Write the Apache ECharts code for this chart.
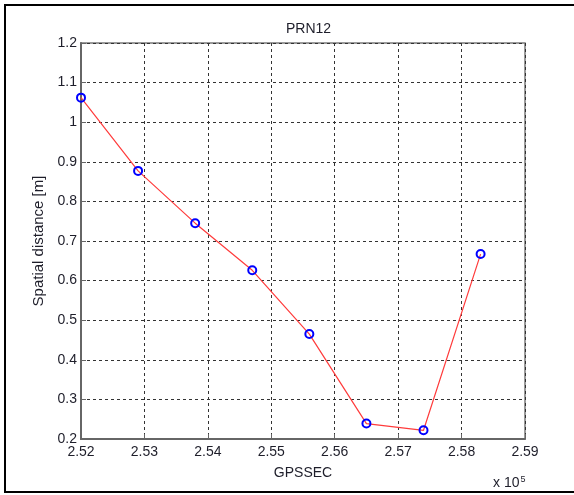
<!DOCTYPE html>
<html>
<head>
<meta charset="utf-8">
<script src="https://cdn.jsdelivr.net/npm/echarts@6/dist/echarts.min.js"></script>
<style>html,body{margin:0;padding:0;background:#fff;}#c{width:574px;height:495px;}</style>
</head>
<body>
<div id="c"></div>
<script>
// GPS seconds of week
const gpsSec = [252000, 252900, 253800, 254700, 255600, 256500, 257400, 258300];
// Spatial distance [m]
const distance = [1.062, 0.877, 0.745, 0.626, 0.465, 0.239, 0.222, 0.667];
const xTickValues = [252000, 253000, 254000, 255000, 256000, 257000, 258000, 259000];
const yTickValues = [0.2, 0.3, 0.4, 0.5, 0.6, 0.7, 0.8, 0.9, 1.0, 1.1, 1.2];

const FONT = 'Liberation Sans, Arial, sans-serif';
const TXT = '#1e1e2a';
const chart = echarts.init(document.getElementById('c'), null, {renderer: 'canvas'});
chart.setOption({
  animation: false,
  backgroundColor: '#fff',
  title: {
    text: 'PRN12', left: 281, top: 17,
    textStyle: {fontFamily: FONT, fontSize: 14, fontWeight: 'normal', color: TXT}
  },
  grid: {
    left: 81, right: 49, top: 43, bottom: 56,
    show: true, borderColor: '#7a7a7a', borderWidth: 1.5, backgroundColor: '#fff'
  },
  xAxis: {
    type: 'value',
    min: xTickValues[0], max: xTickValues[xTickValues.length - 1], interval: 1000,
    name: 'GPSSEC', nameLocation: 'middle', nameGap: 27,
    nameTextStyle: {fontFamily: FONT, fontSize: 14, color: TXT},
    axisLine: {show: true, lineStyle: {color: '#666', width: 2}},
    axisTick: {show: true, inside: true, length: 5, lineStyle: {color: '#666'}},
    axisLabel: {margin: 6, fontFamily: FONT, fontSize: 14, color: TXT,
      formatter: v => (v / 1e5).toFixed(2)},
    splitLine: {show: true, lineStyle: {color: '#333', width: 1, type: [3, 3]}}
  },
  yAxis: {
    type: 'value',
    min: yTickValues[0], max: yTickValues[yTickValues.length - 1], interval: 0.1,
    name: 'Spatial distance [m]', nameLocation: 'middle', nameGap: 30,
    nameTextStyle: {fontFamily: FONT, fontSize: 15, color: TXT},
    axisLine: {show: true, lineStyle: {color: '#666', width: 2}},
    axisTick: {show: true, inside: true, length: 5, lineStyle: {color: '#666'}},
    axisLabel: {margin: 4, fontFamily: FONT, fontSize: 14, color: TXT,
      formatter: v => String(Math.round(v * 10) / 10)},
    splitLine: {show: true, lineStyle: {color: '#333', width: 1, type: [3, 3]}}
  },
  series: [{
    type: 'line',
    data: gpsSec.map((x, i) => [x, distance[i]]),
    symbol: 'circle', symbolSize: 8, showSymbol: true,
    lineStyle: {color: '#ff3b3b', width: 1.2},
    itemStyle: {color: 'rgba(255,255,255,0)', borderColor: '#0000ff', borderWidth: 2},
    z: 5
  }],
  graphic: [
    {type: 'rect', shape: {x: 5, y: 5, width: 700, height: 487},
     style: {fill: 'none', stroke: '#000', lineWidth: 2}, silent: true},
    {type: 'text', x: 493, y: 475,
     style: {text: '{b|x 10}{s|5}', fontFamily: FONT, fill: TXT,
       rich: {b: {fontSize: 14, fontFamily: FONT, color: TXT},
              s: {fontSize: 9, fontFamily: FONT, color: TXT, verticalAlign: 'top', padding: [0,0,8,1]}}}}
  ]
});
</script>
</body>
</html>
